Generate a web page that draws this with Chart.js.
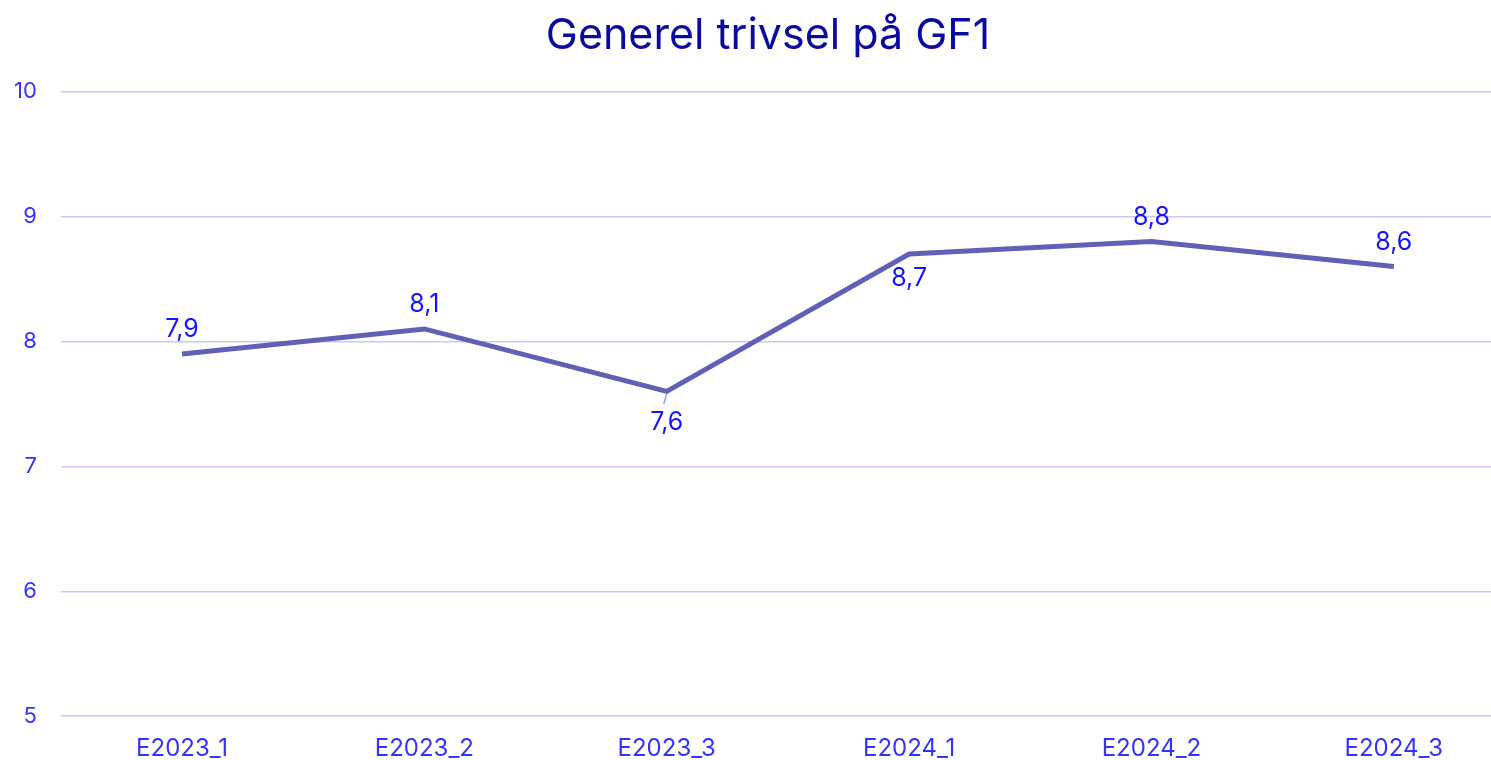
<!DOCTYPE html>
<html>
<head>
<meta charset="utf-8">
<script src="https://cdn.jsdelivr.net/npm/chart.js@4/dist/chart.umd.min.js"></script>
<style>
html,body{margin:0;padding:0;background:#fff;overflow:hidden;}
#wrap{position:absolute;left:-10px;top:0;width:1556px;height:781px;}
</style>
</head>
<body>
<div id="wrap"><canvas id="c"></canvas></div>
<script>
const categories = ['E2023_1','E2023_2','E2023_3','E2024_1','E2024_2','E2024_3'];
const values = [7.9, 8.1, 7.6, 8.7, 8.8, 8.6];
const yTicks = [5, 6, 7, 8, 9, 10];
const labelSide = ['top','top','bottom','bottom','top','top'];

const valueLabels = {
  id: 'valueLabels',
  afterDatasetsDraw(chart) {
    const ctx = chart.ctx;
    const meta = chart.getDatasetMeta(0);
    ctx.save();
    ctx.font = '25px Inter';
    ctx.fillStyle = '#1414ff';
    ctx.textAlign = 'center';
    ctx.textBaseline = 'middle';
    meta.data.forEach((pt, i) => {
      const txt = String(values[i]).replace('.', ',');
      let y;
      if (labelSide[i] === 'top') {
        y = pt.y - 24;
      } else {
        y = pt.y + 24;
        if (i === 2) {
          y = pt.y + 31;
          ctx.strokeStyle = '#9a9ae8';
          ctx.lineWidth = 1.5;
          ctx.beginPath();
          ctx.moveTo(pt.x, pt.y + 2);
          ctx.lineTo(pt.x - 3, pt.y + 13);
          ctx.stroke();
        }
      }
      ctx.fillText(txt, pt.x, y);
    });
    ctx.restore();
  }
};

new Chart(document.getElementById('c'), {
  type: 'line',
  data: {
    labels: categories,
    datasets: [{
      data: values,
      borderColor: '#6060b6',
      borderWidth: 5,
      pointRadius: 0,
      tension: 0,
      fill: false
    }]
  },
  options: {
    responsive: true,
    maintainAspectRatio: false,
    animation: false,
    layout: { padding: { left: 0, right: 0, top: 10, bottom: 0 } },
    plugins: {
      legend: { display: false },
      tooltip: { enabled: false },
      title: {
        display: true,
        text: 'Generel trivsel på GF1',
        color: '#0a0aa0',
        font: { family: 'Inter', size: 43, weight: 'normal' },
        padding: { top: 0, bottom: 30 }
      }
    },
    scales: {
      x: {
        offset: true,
        grid: { display: false, drawTicks: false },
        border: { display: false },
        ticks: { color: '#3333ff', font: { family: 'Inter', size: 24 }, padding: 18 }
      },
      y: {
        min: 5, max: 10,
        afterBuildTicks(axis) { axis.ticks = yTicks.map(v => ({ value: v })); },
        grid: { color: '#c8c8f6', lineWidth: 1.5, drawTicks: false },
        border: { display: false },
        ticks: { color: '#3333ff', font: { family: 'Inter', size: 22 }, padding: 24 }
      },
      yPad: {
        position: 'right',
        min: 5, max: 10,
        grid: { display: false, drawTicks: false },
        border: { display: false },
        ticks: { display: false },
        afterFit(axis) { axis.width = 31; }
      }
    }
  },
  plugins: [valueLabels]
});
</script>
</body>
</html>
